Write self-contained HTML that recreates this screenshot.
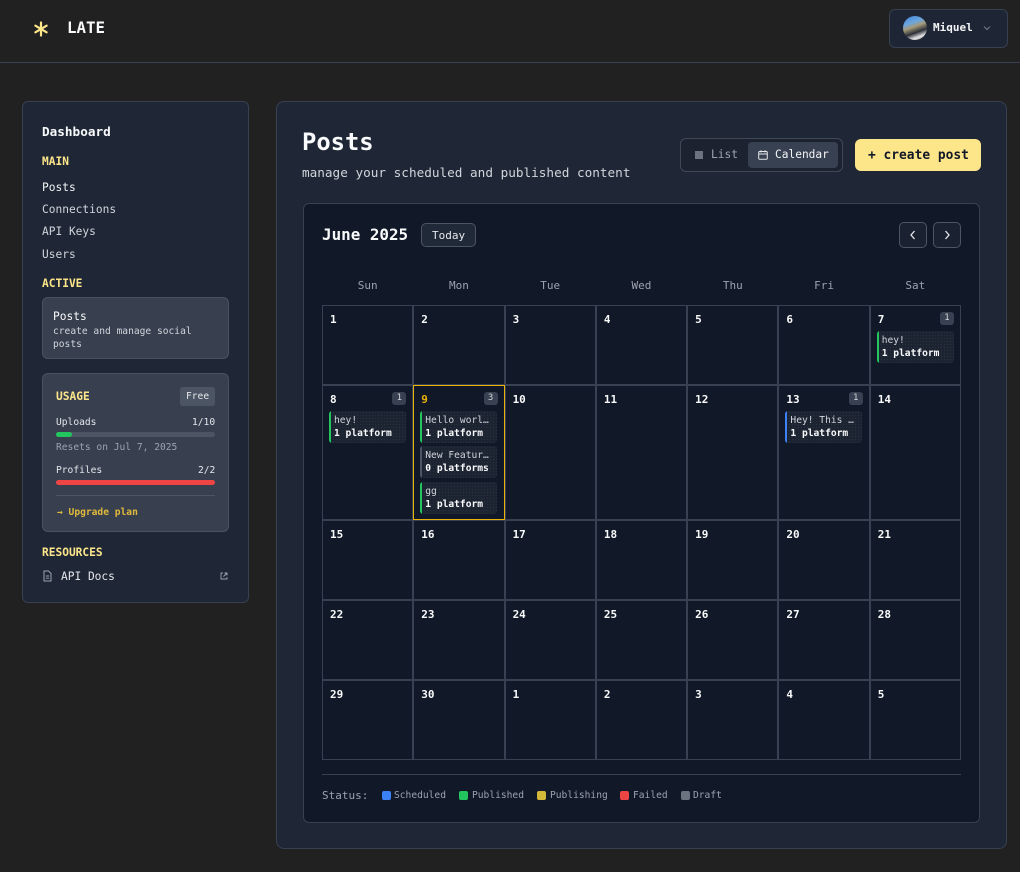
<!DOCTYPE html>
<html><head><meta charset="utf-8">
<style>
*{box-sizing:border-box;margin:0;padding:0}
html,body{width:1020px;height:872px;background:#212121;overflow:hidden}
body{font-family:"DejaVu Sans Mono","Liberation Mono",monospace;color:#f3f4f6;position:relative}
.a{position:absolute}
.t{position:absolute;white-space:nowrap;line-height:16px}
.b{font-weight:bold}
.y{color:#fde68a}
.box{position:absolute;border:1px solid #374151}
.cell{border:1px solid #374151;position:relative}
.dn{position:absolute;left:7px;top:7px;font-size:11px;font-weight:bold;line-height:14px;color:#f9fafb}
.bd{position:absolute;right:6px;top:6px;width:14px;height:13px;border-radius:3px;background:#374151;color:#d1d5db;font-size:9px;line-height:13px;text-align:center}
.chip{position:absolute;left:6px;width:77px;height:32px;border-radius:3px;background-color:#1c2331;background-image:radial-gradient(#2a3242 0.6px,transparent 0.7px);background-size:3px 3px;padding-left:5px;font-size:9.6px;line-height:12.5px;padding-top:4px;overflow:hidden;white-space:nowrap}
.chip .bar{position:absolute;left:0;top:0;width:2px;height:32px;background:#22c55e;border-radius:2px 0 0 2px}
.chip .l1{color:#d1d5db}
.chip .l2{color:#f9fafb;font-weight:bold}
.lg{position:absolute;top:791px;width:9px;height:9px;border-radius:2px}
</style></head><body>

<!-- header -->
<svg class="a" style="left:33px;top:21px" width="16" height="16" viewBox="0 0 16 16">
<g stroke="#fde68a" stroke-width="2.2" stroke-linecap="round">
<line x1="8" y1="1.5" x2="8" y2="14.5"/>
<line x1="2.4" y1="4.7" x2="13.6" y2="11.3"/>
<line x1="2.4" y1="11.3" x2="13.6" y2="4.7"/>
</g></svg>
<div class="t b" style="left:67px;top:20px;font-size:15.8px;color:#f9fafb">LATE</div>
<div class="a" style="left:0;top:62px;width:1020px;height:1px;background:#3a4152"></div>

<div class="box" style="left:889px;top:9px;width:119px;height:39px;border-radius:6px;background:#1e2535"></div>
<div class="a" style="left:903px;top:16px;width:24px;height:24px;border-radius:50%;background:linear-gradient(160deg,#3f86d6 0%,#6aa6e0 30%,#a59a7a 45%,#2b2f36 65%,#e8e8ea 82%,#555 100%)"></div>
<div class="t b" style="left:933px;top:20px;font-size:11px;color:#f3f4f6">Miquel</div>
<svg class="a" style="left:983px;top:25px" width="8" height="6" viewBox="0 0 8 6"><path d="M1 1.5 L4 4.5 L7 1.5" stroke="#6b7280" stroke-width="1.2" fill="none"/></svg>

<!-- sidebar -->
<div class="box" style="left:22px;top:101px;width:227px;height:502px;border-radius:6px;background:#1f2736"></div>
<div class="t b" style="left:42px;top:124px;font-size:12.7px;color:#f9fafb">Dashboard</div>
<div class="t b y" style="left:42px;top:154px;font-size:11.2px">MAIN</div>
<div class="t" style="left:42px;top:180px;font-size:11.2px;color:#f3f4f6">Posts</div>
<div class="t" style="left:42px;top:202px;font-size:11.2px;color:#d1d5db">Connections</div>
<div class="t" style="left:42px;top:224px;font-size:11.2px;color:#d1d5db">API Keys</div>
<div class="t" style="left:42px;top:247px;font-size:11.2px;color:#d1d5db">Users</div>
<div class="t b y" style="left:42px;top:276px;font-size:11.2px">ACTIVE</div>

<div class="a" style="left:42px;top:297px;width:187px;height:62px;border-radius:6px;background:#384050;border:1px solid #4a5262"></div>
<div class="t" style="left:53px;top:309px;font-size:11.2px;color:#f9fafb">Posts</div>
<div class="t" style="left:53px;top:324px;font-size:9.6px;color:#d1d5db">create and manage social</div>
<div class="t" style="left:53px;top:337px;font-size:9.6px;color:#d1d5db">posts</div>

<div class="a" style="left:42px;top:373px;width:187px;height:159px;border-radius:6px;background:#384050;border:1px solid #4a5262"></div>
<div class="t b y" style="left:56px;top:389px;font-size:11.2px">USAGE</div>
<div class="a" style="left:180px;top:387px;width:35px;height:19px;border-radius:3px;background:#4b5563"></div>
<div class="t" style="left:186px;top:389px;font-size:9.6px;color:#e5e7eb">Free</div>
<div class="t" style="left:56px;top:415px;font-size:9.6px;color:#e5e7eb">Uploads</div>
<div class="t" style="left:192px;top:415px;font-size:9.6px;color:#e5e7eb">1/10</div>
<div class="a" style="left:56px;top:432px;width:159px;height:5px;border-radius:3px;background:#4b5563"></div>
<div class="a" style="left:56px;top:432px;width:16px;height:5px;border-radius:3px;background:#22c55e"></div>
<div class="t" style="left:56px;top:440px;font-size:9.6px;color:#9ca3af">Resets on Jul 7, 2025</div>
<div class="t" style="left:56px;top:463px;font-size:9.6px;color:#e5e7eb">Profiles</div>
<div class="t" style="left:198px;top:463px;font-size:9.6px;color:#e5e7eb">2/2</div>
<div class="a" style="left:56px;top:480px;width:159px;height:5px;border-radius:3px;background:#ef4444"></div>
<div class="a" style="left:56px;top:495px;width:159px;height:1px;background:#4b5563"></div>
<div class="t b" style="left:57px;top:505px;font-size:9.6px;color:#e0b93a">→ Upgrade plan</div>

<div class="t b y" style="left:42px;top:545px;font-size:11.2px">RESOURCES</div>
<svg class="a" style="left:43px;top:570px" width="9" height="12" viewBox="0 0 9 12"><path d="M1 1 H5.5 L8 3.5 V11 H1 Z" stroke="#9ca3af" stroke-width="1" fill="none"/><path d="M2.8 6 H6.2 M2.8 8.2 H6.2" stroke="#9ca3af" stroke-width="0.9"/></svg>
<div class="t" style="left:61px;top:569px;font-size:11.2px;color:#e5e7eb">API Docs</div>
<svg class="a" style="left:220px;top:572px" width="8" height="8" viewBox="0 0 8 8"><path d="M3 1 H1 V7 H7 V5 M4.5 1 H7 V3.5 M7 1 L3.5 4.5" stroke="#9ca3af" stroke-width="0.9" fill="none"/></svg>

<!-- main card -->
<div class="box" style="left:276px;top:101px;width:731px;height:748px;border-radius:8px;background:#1f2736"></div>
<div class="t b" style="left:302px;top:128px;font-size:23.8px;line-height:28px;color:#f9fafb">Posts</div>
<div class="t" style="left:302px;top:165px;font-size:12.7px;color:#d1d5db">manage your scheduled and published content</div>

<div class="a" style="left:680px;top:138px;width:163px;height:34px;border-radius:6px;border:1px solid #414957;background:#1c2230"></div>
<div class="a" style="left:695px;top:151px;width:8px;height:8px;background:#6b7280"></div>
<div class="t" style="left:711px;top:147px;font-size:11.2px;color:#9ca3af">List</div>
<div class="a" style="left:748px;top:142px;width:90px;height:26px;border-radius:4px;background:#374151"></div>
<svg class="a" style="left:758px;top:150px" width="10" height="10" viewBox="0 0 10 10"><rect x="0.7" y="1.5" width="8.6" height="7.8" rx="1" stroke="#e5e7eb" stroke-width="1" fill="none"/><path d="M0.7 4 H9.3 M3 0.3 V2.5 M7 0.3 V2.5" stroke="#e5e7eb" stroke-width="1"/></svg>
<div class="t" style="left:775px;top:147px;font-size:11.2px;color:#f3f4f6">Calendar</div>

<div class="a" style="left:855px;top:139px;width:126px;height:32px;border-radius:6px;background:#fde68a"></div>
<div class="t b" style="left:868px;top:148px;font-size:12.9px;color:#111827">+ create post</div>

<!-- calendar card -->
<div class="box" style="left:303px;top:203px;width:677px;height:620px;border-radius:6px;background:#111827"></div>
<div class="t b" style="left:322px;top:226px;font-size:15.9px;line-height:18px;color:#f9fafb">June 2025</div>
<div class="a" style="left:421px;top:223px;width:55px;height:24px;border-radius:5px;border:1px solid #4b5563;background:#1f2937"></div>
<div class="t" style="left:432px;top:228px;font-size:11px;color:#e5e7eb">Today</div>
<div class="a" style="left:899px;top:222px;width:28px;height:26px;border-radius:5px;border:1px solid #4b5563;background:#1a2130"></div>
<div class="a" style="left:933px;top:222px;width:28px;height:26px;border-radius:5px;border:1px solid #4b5563;background:#1a2130"></div>
<svg class="a" style="left:909px;top:230px" width="8" height="10" viewBox="0 0 8 10"><path d="M5.5 1 L2 5 L5.5 9" stroke="#e5e7eb" stroke-width="1.3" fill="none"/></svg>
<svg class="a" style="left:943px;top:230px" width="8" height="10" viewBox="0 0 8 10"><path d="M2.5 1 L6 5 L2.5 9" stroke="#e5e7eb" stroke-width="1.3" fill="none"/></svg>

<div class="a" style="left:322px;top:278px;width:639px;display:grid;grid-template-columns:repeat(7,1fr);font-size:11px;line-height:16px;color:#9ca3af;text-align:center">
<div>Sun</div><div>Mon</div><div>Tue</div><div>Wed</div><div>Thu</div><div>Fri</div><div>Sat</div>
</div>

<div class="a" style="left:322px;top:305px;width:639px;height:455px;display:grid;grid-template-columns:repeat(7,1fr);grid-template-rows:80px 135px 80px 80px 80px">
<div class="cell"><div class="dn">1</div></div>
<div class="cell"><div class="dn">2</div></div>
<div class="cell"><div class="dn">3</div></div>
<div class="cell"><div class="dn">4</div></div>
<div class="cell"><div class="dn">5</div></div>
<div class="cell"><div class="dn">6</div></div>
<div class="cell"><div class="dn">7</div><div class="bd">1</div>
  <div class="chip" style="top:25px"><div class="bar"></div><div class="l1">hey!</div><div class="l2">1 platform</div></div></div>

<div class="cell"><div class="dn">8</div><div class="bd">1</div>
  <div class="chip" style="top:25px"><div class="bar"></div><div class="l1">hey!</div><div class="l2">1 platform</div></div></div>
<div class="cell" style="border-color:#eab308"><div class="dn" style="color:#eab308">9</div><div class="bd">3</div>
  <div class="chip" style="top:25px"><div class="bar"></div><div class="l1">Hello worl…</div><div class="l2">1 platform</div></div>
  <div class="chip" style="top:60px"><div class="bar" style="background:#4b5563"></div><div class="l1">New Featur…</div><div class="l2">0 platforms</div></div>
  <div class="chip" style="top:96px"><div class="bar"></div><div class="l1">gg</div><div class="l2">1 platform</div></div></div>
<div class="cell"><div class="dn">10</div></div>
<div class="cell"><div class="dn">11</div></div>
<div class="cell"><div class="dn">12</div></div>
<div class="cell"><div class="dn">13</div><div class="bd">1</div>
  <div class="chip" style="top:25px"><div class="bar" style="background:#3b82f6"></div><div class="l1">Hey! This …</div><div class="l2">1 platform</div></div></div>
<div class="cell"><div class="dn">14</div></div>

<div class="cell"><div class="dn">15</div></div>
<div class="cell"><div class="dn">16</div></div>
<div class="cell"><div class="dn">17</div></div>
<div class="cell"><div class="dn">18</div></div>
<div class="cell"><div class="dn">19</div></div>
<div class="cell"><div class="dn">20</div></div>
<div class="cell"><div class="dn">21</div></div>

<div class="cell"><div class="dn">22</div></div>
<div class="cell"><div class="dn">23</div></div>
<div class="cell"><div class="dn">24</div></div>
<div class="cell"><div class="dn">25</div></div>
<div class="cell"><div class="dn">26</div></div>
<div class="cell"><div class="dn">27</div></div>
<div class="cell"><div class="dn">28</div></div>

<div class="cell"><div class="dn">29</div></div>
<div class="cell"><div class="dn">30</div></div>
<div class="cell"><div class="dn">1</div></div>
<div class="cell"><div class="dn">2</div></div>
<div class="cell"><div class="dn">3</div></div>
<div class="cell"><div class="dn">4</div></div>
<div class="cell"><div class="dn">5</div></div>
</div>

<div class="a" style="left:322px;top:774px;width:639px;height:1px;background:#374151"></div>
<div class="t" style="left:322px;top:788px;font-size:11px;color:#9ca3af">Status:</div>
<div class="lg" style="left:382px;background:#3b82f6"></div>
<div class="t" style="left:394px;top:788px;font-size:9.6px;color:#9ca3af">Scheduled</div>
<div class="lg" style="left:459px;background:#22c55e"></div>
<div class="t" style="left:472px;top:788px;font-size:9.6px;color:#9ca3af">Published</div>
<div class="lg" style="left:537px;background:#d4b83a"></div>
<div class="t" style="left:550px;top:788px;font-size:9.6px;color:#9ca3af">Publishing</div>
<div class="lg" style="left:620px;background:#ef4444"></div>
<div class="t" style="left:633px;top:788px;font-size:9.6px;color:#9ca3af">Failed</div>
<div class="lg" style="left:681px;background:#6b7280"></div>
<div class="t" style="left:693px;top:788px;font-size:9.6px;color:#9ca3af">Draft</div>

</body></html>
